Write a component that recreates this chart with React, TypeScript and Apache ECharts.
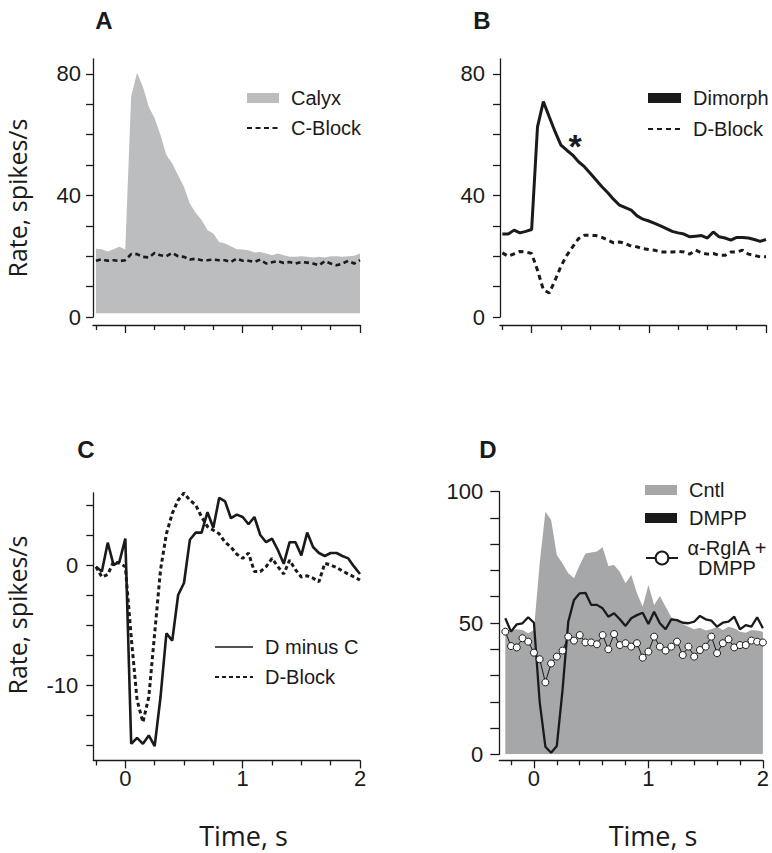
import React, { useEffect, useRef } from 'react';
import * as echarts from 'echarts';

// time bins (s), 50 ms
const timeBins = [
  -0.25, -0.2, -0.15, -0.1, -0.05, 0, 0.05, 0.1, 0.15, 0.2, 0.25, 0.3, 0.35, 0.4, 0.45, 0.5,
  0.55, 0.6, 0.65, 0.7, 0.75, 0.8, 0.85, 0.9, 0.95, 1.0, 1.05, 1.1, 1.15, 1.2, 1.25, 1.3,
  1.35, 1.4, 1.45, 1.5, 1.55, 1.6, 1.65, 1.7, 1.75, 1.8, 1.85, 1.9, 1.95, 2.0,
];

// Panel A
const calyx = [
  22.5, 22.3, 21.6, 22.3, 23.1, 22.2, 72.5, 80.4, 75.8, 69.2, 65.4, 59.9, 53.3, 50.5, 46.7, 42.9,
  37.4, 34.3, 31.9, 28.6, 27.5, 24.7, 24.2, 23.3, 22.3, 22.2, 22.0, 21.2, 21.4, 20.9, 20.3, 20.9,
  20.3, 19.8, 19.8, 20.0, 19.8, 19.6, 19.8, 19.6, 20.0, 20.0, 19.8, 20.0, 20.2, 20.9,
];
const cBlock = [
  18.5, 19.0, 18.5, 18.7, 18.4, 18.7, 20.7, 20.7, 19.8, 19.6, 21.1, 20.3, 20.0, 21.1, 20.0, 19.8,
  18.9, 19.2, 18.7, 18.7, 18.9, 18.7, 18.7, 18.1, 19.2, 18.5, 18.5, 18.1, 18.9, 17.6, 18.0, 18.4,
  17.8, 18.1, 17.6, 18.1, 17.9, 17.6, 17.0, 18.4, 17.6, 17.0, 17.6, 18.5, 17.6, 18.7,
];

// Panel B
const dimorph = [
  27.3, 27.3, 28.6, 27.7, 28.2, 28.8, 62.6, 70.9, 65.9, 61.0, 56.6, 54.9, 53.3, 51.1, 49.5, 47.3,
  45.1, 42.9, 40.9, 38.7, 36.8, 36.0, 35.2, 33.3, 32.2, 31.6, 30.8, 30.0, 29.1, 28.2, 27.7, 27.3,
  26.4, 26.6, 26.8, 26.0, 28.0, 26.4, 26.0, 25.3, 26.2, 26.2, 26.0, 25.5, 24.9, 25.5,
];
const dBlockB = [
  21.1, 20.0, 20.8, 21.6, 21.4, 20.9, 15.4, 9.0, 7.9, 12.1, 16.7, 20.3, 23.1, 25.8, 26.9, 26.9,
  26.8, 26.2, 25.3, 24.4, 24.7, 24.2, 23.3, 23.1, 22.5, 22.2, 22.0, 21.4, 21.4, 21.4, 21.6, 21.4,
  20.7, 22.0, 21.1, 20.7, 20.9, 20.3, 20.3, 21.4, 21.4, 22.0, 20.7, 20.3, 19.8, 19.8,
];

// Panel C
const dMinusC = [
  -0.14, -0.55, 1.86, 0.0, 0.28, 2.2, -14.9, -14.4, -14.9, -14.2, -15.1, -11.0, -5.7, -6.3, -2.5, -1.5,
  2.1, 2.7, 2.7, 4.4, 3.1, 5.6, 5.3, 3.9, 4.2, 4.0, 3.4, 4.0, 2.5, 1.9, 2.2, 1.25,
  0.1, 1.9, 1.9, 0.8, 2.7, 1.5, 1.0, 0.75, 1.0, 1.0, 0.75, 0.55, -0.14, -0.75,
];
const dBlockC = [
  -0.14, -1.0, -0.8, 0.28, 0.14, -0.14, -6.0, -11.25, -13.1, -11.0, -5.7, -0.4, 2.6, 4.3, 5.4, 6.0,
  5.4, 5.0, 4.0, 3.2, 2.9, 2.6, 1.9, 1.5, 0.9, 0.55, 1.0, -0.55, -0.55, -0.14, 0.55, -0.14,
  -0.75, 0.4, -0.4, -1.0, -0.9, -1.1, -1.4, 0.14, 0.0, -0.2, -0.5, -0.75, -1.0, -1.25,
];

// Panel D
const cntl = [
  46.7, 47.3, 47.6, 47.3, 46.1, 47.3, 72.7, 92.4, 89.2, 75.9, 72.7, 68.9, 67.0, 72.1, 76.5, 76.8,
  77.2, 78.8, 71.7, 72.1, 69.5, 65.1, 68.3, 61.3, 56.2, 64.5, 56.9, 60.3, 56.2, 52.2, 51.1, 49.5,
  48.6, 47.6, 48.2, 47.1, 47.6, 48.6, 47.3, 48.6, 48.0, 46.7, 46.3, 47.3, 47.1, 46.7,
];
const dmpp = [
  51.8, 46.7, 49.5, 49.9, 52.2, 50.1, 20.0, 2.9, 0.6, 3.2, 24.5, 50.5, 58.8, 61.3, 61.5, 56.9,
  56.9, 55.6, 52.4, 53.7, 51.4, 48.9, 51.8, 53.0, 53.9, 49.6, 54.3, 49.9, 47.6, 51.4, 51.1, 50.1,
  49.9, 50.5, 52.7, 51.4, 50.9, 48.6, 50.1, 50.5, 52.4, 47.6, 49.2, 48.6, 52.2, 48.0,
];
const rgia = [
  46.7, 41.2, 40.7, 44.2, 42.9, 38.7, 36.2, 27.4, 34.6, 37.2, 39.5, 44.8, 43.3, 45.4, 42.6, 42.6,
  41.9, 45.4, 40.0, 45.8, 41.6, 42.3, 41.0, 42.3, 36.8, 39.1, 44.8, 41.0, 39.5, 41.0, 42.9, 37.8,
  41.0, 37.2, 39.7, 41.0, 44.8, 38.5, 42.3, 43.8, 40.7, 41.6, 41.6, 43.3, 42.9, 42.6,
];

// tick values
const xTicksABC = [-0.25, 0.25, 0.5, 0.75, 1.25, 1.5, 1.75];
const xTicksD = [-0.2, 0.2, 0.4, 0.6, 0.8, 1.2, 1.4, 1.6, 1.8];
const xMajor = [0, 1, 2];
const yTicksAB = [0, 10, 20, 30, 40, 50, 60, 70, 80];
const yLabelsAB = [0, 40, 80];
const yTicksC = [-15, -12.5, -10, -7.5, -5, -2.5, 0, 2.5, 5];
const yLabelsC = [-10, 0];
const yTicksD = [0, 10, 20, 30, 40, 50, 60, 70, 80, 90, 100];
const yLabelsD = [0, 50, 100];

const GRAY_A = '#bcbdbf';
const GRAY_D = '#a5a7a9';
const INK = '#1a1a1a';
const SANS = '"Liberation Sans", Arial, sans-serif';
const TITLE = '"Open Sans", "Noto Sans", sans-serif';

const pairs = (ys: number[]) => timeBins.map((t, i) => [t, ys[i]]);

function makeXAxes(gridIndex: number, xMin: number, minor: number[], labels: boolean, offset: number) {
  const common = {
    type: 'value', gridIndex, position: 'bottom', min: xMin, max: 2, offset,
    splitLine: { show: false },
  };
  return [
    {
      ...common,
      axisLine: { show: true, onZero: false, lineStyle: { color: INK, width: 1.3 } },
      axisTick: { show: true, customValues: xMajor, length: 8, inside: false, lineStyle: { color: INK, width: 1.3 } },
      axisLabel: {
        show: labels, customValues: xMajor, margin: 7, fontSize: 22, fontFamily: SANS, color: INK,
      },
    },
    {
      ...common,
      axisLine: { show: false, onZero: false },
      axisTick: { show: true, customValues: minor, length: 5, lineStyle: { color: INK, width: 1.3 } },
      axisLabel: { show: false },
    },
  ];
}

function makeYAxis(gridIndex: number, min: number, max: number, ticks: number[], labels: number[], tickLen: number, margin: number) {
  return {
    type: 'value', gridIndex, min, max,
    splitLine: { show: false },
    axisLine: { show: true, onZero: false, lineStyle: { color: INK, width: 1.3 } },
    axisTick: { show: true, customValues: ticks, length: tickLen, lineStyle: { color: INK, width: 1.3 } },
    axisLabel: { customValues: labels, margin, fontSize: 22, fontFamily: SANS, color: INK },
  };
}

const legendText = { fontSize: 20, fontFamily: SANS, color: INK, lineHeight: 20, padding: [0, 0, 0, 7] };
const noSymbol = { color: 'rgba(0,0,0,0)', borderWidth: 0, opacity: 0 };
const letter = (text: string, x: number, y: number) => ({
  type: 'text', x, y,
  style: { text, fontSize: 24, fontWeight: 'bold', fontFamily: SANS, fill: INK, align: 'center', verticalAlign: 'middle' },
});
const yTitle = (y: number) => ({
  type: 'text', x: 17, y, rotation: Math.PI / 2,
  style: { text: 'Rate, spikes/s', fontSize: 25, lineHeight: 25, fontFamily: TITLE, fill: INK, align: 'center', verticalAlign: 'middle' },
});
const xTitle = (x: number) => ({
  type: 'text', x, y: 835,
  style: { text: 'Time, s', fontSize: 27, fontFamily: TITLE, fill: INK, align: 'center', verticalAlign: 'middle' },
});

export default function App() {
  const ref = useRef<HTMLDivElement>(null);
  useEffect(() => {
    if (!ref.current) return;
    const chart = echarts.init(ref.current, null, { renderer: 'svg' });
    const option: any = {
      animation: false,
      backgroundColor: '#ffffff',
      grid: [
        { left: 93, top: 58.8, width: 267, height: 258.2 },
        { left: 500, top: 58.8, width: 266, height: 258.2 },
        { left: 93.3, top: 493, width: 266.7, height: 266.4 },
        { left: 499.3, top: 491.7, width: 269, height: 262.6 },
      ],
      xAxis: [
        ...makeXAxes(0, -0.275, xTicksABC, false, 8),
        ...makeXAxes(1, -0.27, xTicksABC, false, 8),
        ...makeXAxes(2, -0.273, xTicksABC, true, 1),
        ...makeXAxes(3, -0.3025, xTicksD, true, 6),
      ],
      yAxis: [
        makeYAxis(0, 0, 85, yTicksAB, yLabelsAB, 7, 12),
        makeYAxis(1, 0, 85, yTicksAB, yLabelsAB, 7, 15),
        makeYAxis(2, -16.2, 6, yTicksC, yLabelsC, 7, 15),
        makeYAxis(3, 0, 100, yTicksD, yLabelsD, 9, 16),
      ],
      legend: [
        {
          left: 246, top: 88, orient: 'vertical', itemWidth: 32, itemHeight: 10, itemGap: 10, padding: 0,
          selectedMode: false, textStyle: legendText,
          data: [
            { name: 'Calyx', icon: 'rect', itemStyle: { color: GRAY_A } },
            { name: 'C-Block', itemStyle: noSymbol },
          ],
        },
        {
          left: 647, top: 88, orient: 'vertical', itemWidth: 33, itemHeight: 10, itemGap: 11, padding: 0,
          selectedMode: false, textStyle: legendText,
          data: [
            { name: 'Dimorph', icon: 'rect', itemStyle: { color: INK } },
            { name: 'D-Block', itemStyle: noSymbol },
          ],
        },
        {
          left: 214, top: 637, orient: 'vertical', itemWidth: 38, itemHeight: 10, itemGap: 10, padding: 0,
          selectedMode: false, textStyle: legendText,
          data: [
            { name: 'D minus C', itemStyle: noSymbol, lineStyle: { width: 1.5 } },
            { name: 'D-Block ', itemStyle: noSymbol },
          ],
        },
        {
          left: 645, top: 480, orient: 'vertical', itemWidth: 32, itemHeight: 10, itemGap: 8, padding: 0,
          selectedMode: false, textStyle: legendText,
          data: [
            { name: 'Cntl', icon: 'rect', itemStyle: { color: GRAY_D } },
            { name: 'DMPP', icon: 'rect', itemStyle: { color: INK } },
          ],
        },
        {
          left: 645, top: 538, orient: 'vertical', itemWidth: 32, itemHeight: 16, padding: 0,
          selectedMode: false,
          lineStyle: { width: 2 },
          itemStyle: { color: '#ffffff', borderColor: INK, borderWidth: 2 },
          formatter: () => '{a|α-RgIA +\nDMPP}',
          textStyle: {
            fontSize: 20, fontFamily: SANS, color: INK, padding: [0, 0, 0, 6],
            rich: { a: { width: 76, align: 'center', fontSize: 20, fontFamily: SANS, color: INK, lineHeight: 20 } },
          },
          data: [{ name: 'α-RgIA + DMPP' }],
        },
      ],
      series: [
        {
          name: 'Calyx', type: 'line', xAxisIndex: 0, yAxisIndex: 0, data: pairs(calyx),
          symbol: 'none', lineStyle: { width: 0, color: GRAY_A }, itemStyle: { color: GRAY_A },
          areaStyle: { color: GRAY_A, opacity: 1, origin: 1.2 }, z: 1,
        },
        {
          name: 'C-Block', type: 'line', xAxisIndex: 0, yAxisIndex: 0, data: pairs(cBlock),
          symbol: 'none', lineStyle: { width: 2.6, color: INK, type: [5, 3.5] }, itemStyle: { color: INK }, z: 3,
        },
        {
          name: 'Dimorph', type: 'line', xAxisIndex: 2, yAxisIndex: 1, data: pairs(dimorph),
          symbol: 'none', lineStyle: { width: 3, color: INK }, itemStyle: { color: INK }, z: 3,
        },
        {
          name: 'D-Block', type: 'line', xAxisIndex: 2, yAxisIndex: 1, data: pairs(dBlockB),
          symbol: 'none', lineStyle: { width: 3, color: INK, type: [5, 4] }, itemStyle: { color: INK }, z: 3,
        },
        {
          name: 'D minus C', type: 'line', xAxisIndex: 4, yAxisIndex: 2, data: pairs(dMinusC),
          symbol: 'none', lineStyle: { width: 2.6, color: INK }, itemStyle: { color: INK }, z: 3,
        },
        {
          name: 'D-Block ', type: 'line', xAxisIndex: 4, yAxisIndex: 2, data: pairs(dBlockC),
          symbol: 'none', lineStyle: { width: 3, color: INK, type: [4, 3] }, itemStyle: { color: INK }, z: 3,
        },
        {
          name: 'Cntl', type: 'line', xAxisIndex: 6, yAxisIndex: 3, data: pairs(cntl),
          symbol: 'none', lineStyle: { width: 0, color: GRAY_D }, itemStyle: { color: GRAY_D },
          areaStyle: { color: GRAY_D, opacity: 1 }, z: 1,
        },
        {
          name: 'DMPP', type: 'line', xAxisIndex: 6, yAxisIndex: 3, data: pairs(dmpp),
          symbol: 'none', lineStyle: { width: 2.3, color: INK }, itemStyle: { color: INK }, z: 3,
        },
        {
          name: 'α-RgIA + DMPP', type: 'line', xAxisIndex: 6, yAxisIndex: 3, data: pairs(rgia),
          symbol: 'circle', symbolSize: 7, showSymbol: true,
          lineStyle: { width: 1, color: INK },
          itemStyle: { color: '#ffffff', borderColor: INK, borderWidth: 1 }, z: 4,
        },
      ],
      graphic: [
        letter('A', 104, 20),
        letter('B', 482, 20),
        letter('C', 86, 449),
        letter('D', 488, 449),
        { type: 'text', x: 575, y: 146, style: { text: '*', fontSize: 34, fontWeight: 'bold', fontFamily: SANS, fill: INK, align: 'center', verticalAlign: 'middle' } },
        yTitle(198),
        yTitle(615),
        xTitle(243.5),
        xTitle(653),
      ],
    };
    chart.setOption(option);
    return () => chart.dispose();
  }, []);
  return (
    <div
      ref={ref}
      style={{ position: 'fixed', left: 0, top: 0, width: 772, height: 853, background: '#fff' }}
    />
  );
}
